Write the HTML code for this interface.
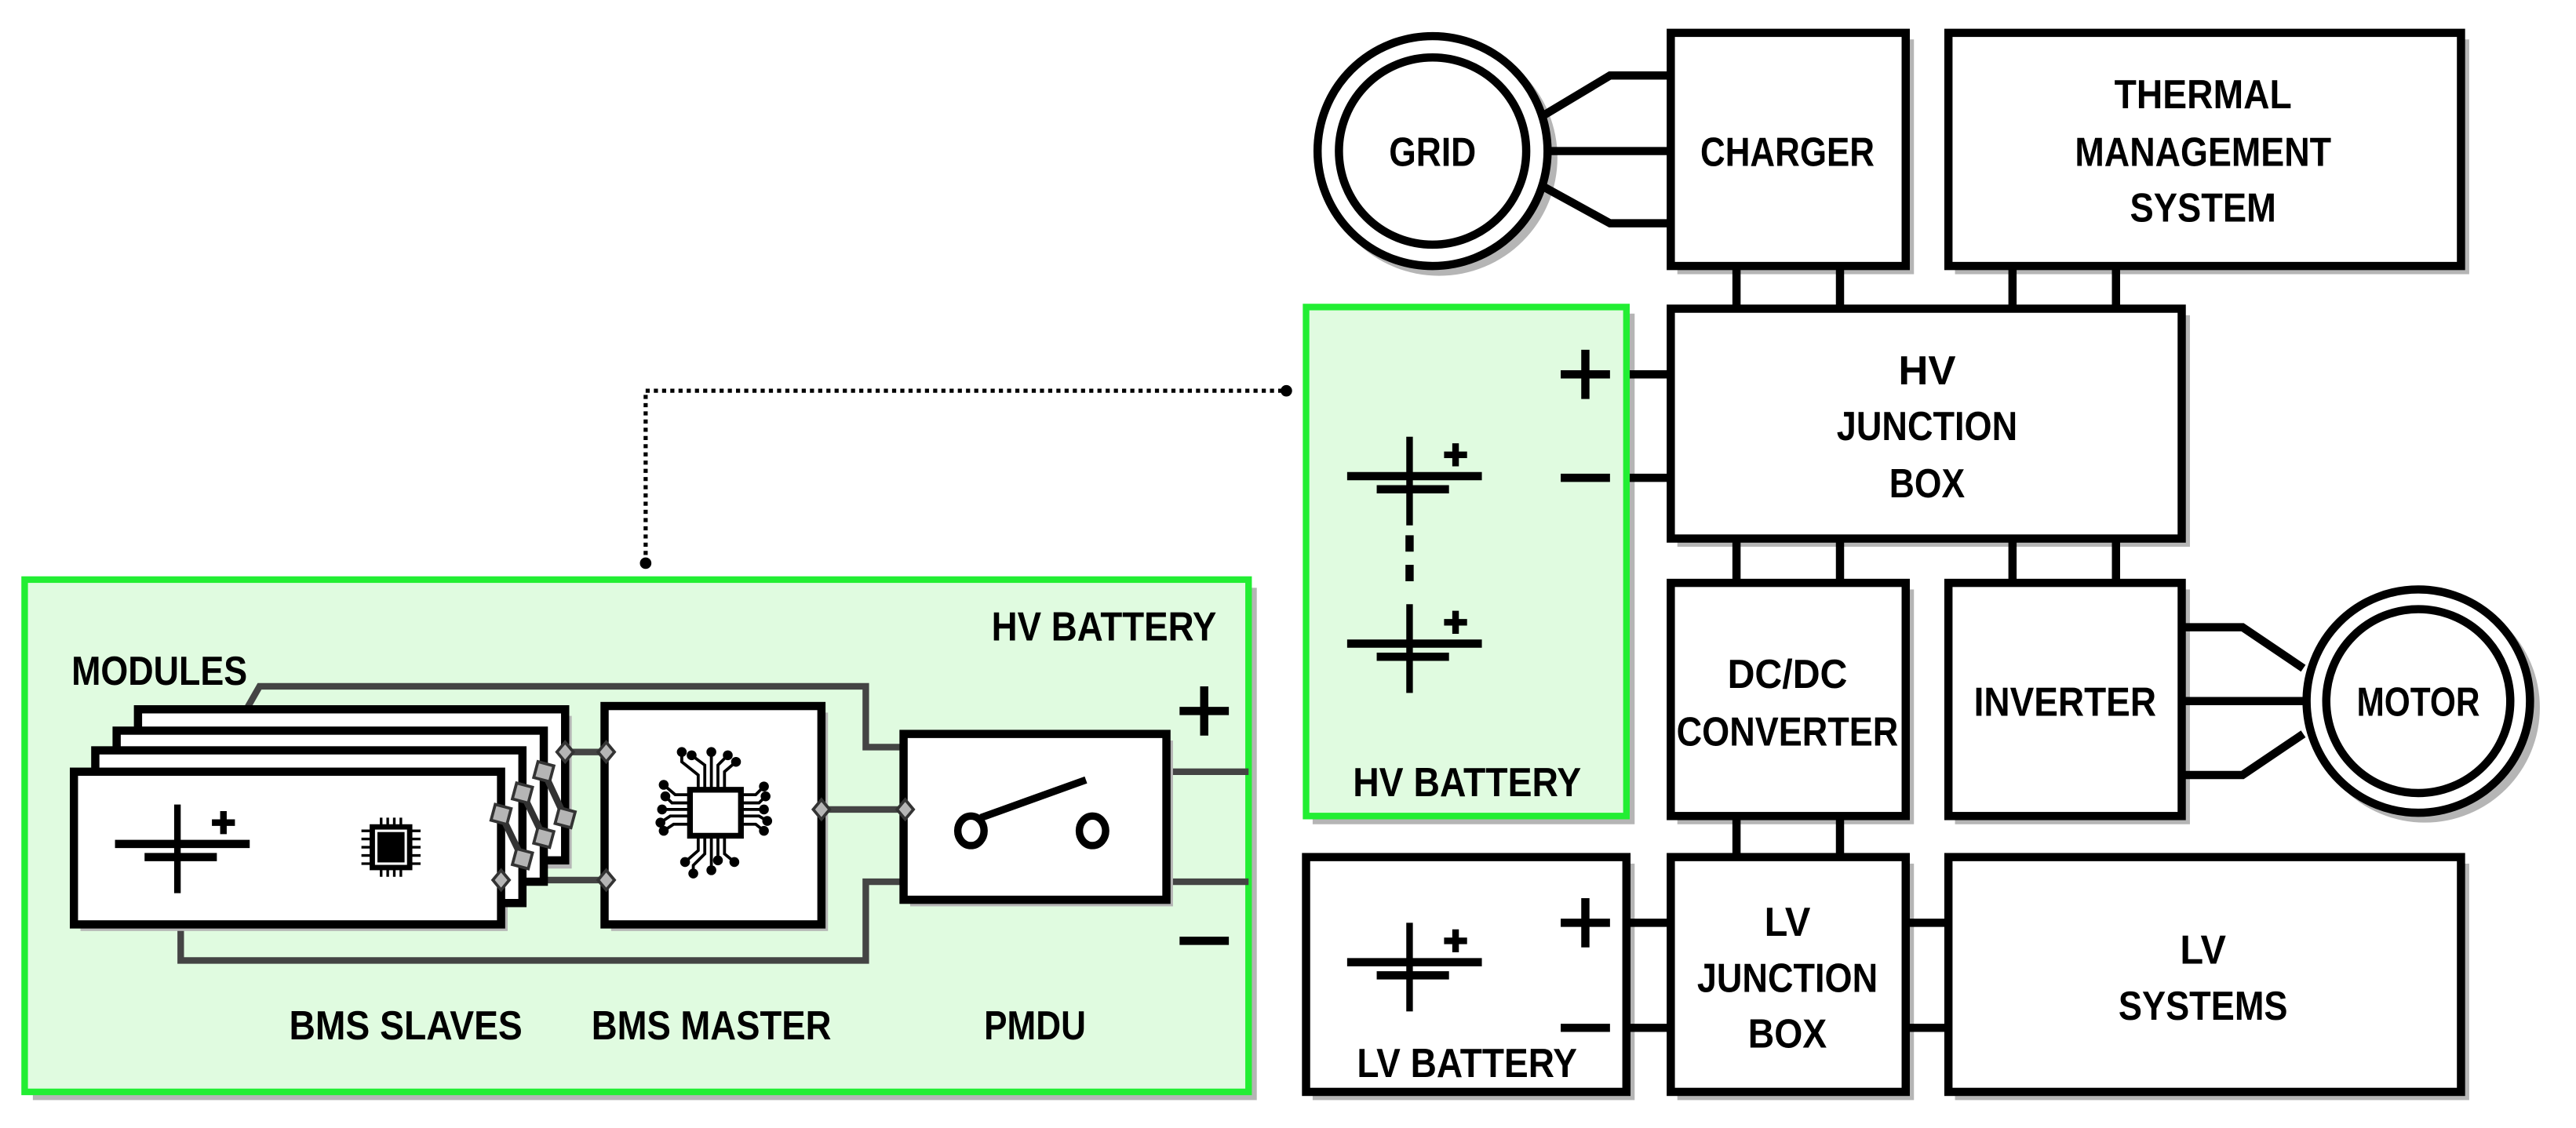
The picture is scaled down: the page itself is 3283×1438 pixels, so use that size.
<!DOCTYPE html>
<html><head><meta charset="utf-8"><style>
html,body{margin:0;padding:0;background:#fff;}
svg{display:block;}
text{font-family:"Liberation Sans",sans-serif;font-weight:bold;font-size:25px;fill:#000;text-anchor:middle;}
</style></head><body>
<svg width="3283" height="1438" viewBox="0 0 1568 687" preserveAspectRatio="none" xmlns="http://www.w3.org/2000/svg">
<defs>
<g id="cell">
<line x1="0" y1="-24" x2="0" y2="30" stroke="#000" stroke-width="4"/>
<line x1="-38" y1="0" x2="44" y2="0" stroke="#000" stroke-width="5"/>
<line x1="-20" y1="8" x2="24" y2="8" stroke="#000" stroke-width="5"/>
<line x1="28" y1="-20" x2="28" y2="-6" stroke="#000" stroke-width="4"/>
<line x1="21" y1="-13" x2="35" y2="-13" stroke="#000" stroke-width="4"/>
</g>
</defs>
<g fill="#b5b5b5">
<rect x="20" y="358" width="745" height="312"/>
<rect x="799" y="191" width="196" height="311"/>
<rect x="799" y="526" width="196" height="144"/>
<rect x="1021" y="24" width="144" height="143"/>
<rect x="1190" y="24" width="313" height="143"/>
<rect x="1021" y="192" width="312" height="141"/>
<rect x="1021" y="359" width="144" height="143"/>
<rect x="1190" y="359" width="143" height="143"/>
<rect x="1021" y="526" width="144" height="144"/>
<rect x="1190" y="526" width="313" height="144"/>
<circle cx="876" cy="96" r="72"/>
<circle cx="1476" cy="431" r="70"/>
</g>
<g stroke="#000" stroke-width="5" fill="#fff">
<circle cx="872" cy="92" r="70"/>
<circle cx="872" cy="92" r="57"/>
<circle cx="1472" cy="427" r="68"/>
<circle cx="1472" cy="427" r="56"/>
</g>
<g stroke="#000" stroke-width="5" fill="none">
<polyline points="940,70 980,46 1017,46"/>
<line x1="942" y1="92" x2="1017" y2="92"/>
<polyline points="940,114 980,136 1017,136"/>
<polyline points="1328,382 1365,382 1402,407"/>
<line x1="1328" y1="427" x2="1404" y2="427"/>
<polyline points="1328,472 1365,472 1402,447"/>
<line x1="1057" y1="162" x2="1057" y2="188"/><line x1="1120" y1="162" x2="1120" y2="188"/>
<line x1="1225" y1="162" x2="1225" y2="188"/><line x1="1288" y1="162" x2="1288" y2="188"/>
<line x1="1057" y1="328" x2="1057" y2="355"/><line x1="1120" y1="328" x2="1120" y2="355"/>
<line x1="1225" y1="328" x2="1225" y2="355"/><line x1="1288" y1="328" x2="1288" y2="355"/>
<line x1="1057" y1="497" x2="1057" y2="522"/><line x1="1120" y1="497" x2="1120" y2="522"/>
<line x1="1160" y1="562" x2="1186" y2="562"/><line x1="1160" y1="626" x2="1186" y2="626"/>
<line x1="990" y1="228" x2="1017" y2="228"/><line x1="990" y1="291" x2="1017" y2="291"/>
<line x1="990" y1="562" x2="1017" y2="562"/><line x1="990" y1="626" x2="1017" y2="626"/>
</g>
<g stroke="#000" stroke-width="5" fill="#fff">
<rect x="1017" y="20" width="143" height="142"/>
<rect x="1186" y="20" width="312" height="142"/>
<rect x="1017" y="188" width="311" height="140"/>
<rect x="1017" y="355" width="143" height="142"/>
<rect x="1186" y="355" width="142" height="142"/>
<rect x="1017" y="522" width="143" height="143"/>
<rect x="1186" y="522" width="312" height="143"/>
<rect x="795" y="522" width="195" height="143"/>
</g>
<rect x="795" y="187" width="195" height="310" fill="#e0fbe0" stroke="#22ee33" stroke-width="4"/>
<text x="872" y="101" textLength="53" lengthAdjust="spacingAndGlyphs">GRID</text>
<text x="1088" y="101" textLength="106" lengthAdjust="spacingAndGlyphs">CHARGER</text>
<text x="1341" y="66" textLength="108" lengthAdjust="spacingAndGlyphs">THERMAL</text>
<text x="1341" y="101" textLength="156" lengthAdjust="spacingAndGlyphs">MANAGEMENT</text>
<text x="1341" y="135" textLength="89" lengthAdjust="spacingAndGlyphs">SYSTEM</text>
<text x="1173" y="234" textLength="35" lengthAdjust="spacingAndGlyphs">HV</text>
<text x="1173" y="268" textLength="110" lengthAdjust="spacingAndGlyphs">JUNCTION</text>
<text x="1173" y="303" textLength="46" lengthAdjust="spacingAndGlyphs">BOX</text>
<text x="1088" y="419" textLength="73" lengthAdjust="spacingAndGlyphs">DC/DC</text>
<text x="1088" y="454" textLength="135" lengthAdjust="spacingAndGlyphs">CONVERTER</text>
<text x="1257" y="436" textLength="111" lengthAdjust="spacingAndGlyphs">INVERTER</text>
<text x="1472" y="436" textLength="75" lengthAdjust="spacingAndGlyphs">MOTOR</text>
<text x="1088" y="570" textLength="28" lengthAdjust="spacingAndGlyphs">LV</text>
<text x="1088" y="604" textLength="110" lengthAdjust="spacingAndGlyphs">JUNCTION</text>
<text x="1088" y="638" textLength="48" lengthAdjust="spacingAndGlyphs">BOX</text>
<text x="1341" y="587" textLength="28" lengthAdjust="spacingAndGlyphs">LV</text>
<text x="1341" y="621" textLength="103" lengthAdjust="spacingAndGlyphs">SYSTEMS</text>
<text x="893" y="485" textLength="139" lengthAdjust="spacingAndGlyphs">HV BATTERY</text>
<text x="893" y="656" textLength="134" lengthAdjust="spacingAndGlyphs">LV BATTERY</text>
<g stroke="#000" stroke-width="5">
<line x1="950" y1="228" x2="980" y2="228"/><line x1="965" y1="213" x2="965" y2="243"/>
<line x1="950" y1="291" x2="980" y2="291"/>
<line x1="950" y1="562" x2="980" y2="562"/><line x1="965" y1="547" x2="965" y2="577"/>
<line x1="950" y1="626" x2="980" y2="626"/>
<line x1="858" y1="326" x2="858" y2="336" /><line x1="858" y1="344" x2="858" y2="354"/>
</g>
<use href="#cell" x="858" y="290"/>
<use href="#cell" x="858" y="392"/>
<use href="#cell" x="858" y="586"/>
<polyline points="393,343 393,238 783,238" fill="none" stroke="#000" stroke-width="2.5" stroke-dasharray="2.5,2.5"/>
<circle cx="393" cy="343" r="3.5"/><circle cx="783" cy="238" r="3.5"/>
<rect x="15" y="353" width="745" height="312" fill="#e0fbe0" stroke="#22ee33" stroke-width="4"/>
<text x="672" y="390" textLength="137" lengthAdjust="spacingAndGlyphs">HV BATTERY</text>
<text x="97" y="417" textLength="107" lengthAdjust="spacingAndGlyphs">MODULES</text>
<text x="247" y="633" textLength="142" lengthAdjust="spacingAndGlyphs">BMS SLAVES</text>
<text x="433" y="633" textLength="146" lengthAdjust="spacingAndGlyphs">BMS MASTER</text>
<text x="630" y="633" textLength="62" lengthAdjust="spacingAndGlyphs">PMDU</text>
<g stroke="#444" stroke-width="4" fill="none">
<polyline points="150,432 158,418 527,418 527,455 550,455"/>
<polyline points="110,563 110,585 527,585 527,537 550,537"/>
<line x1="710" y1="470" x2="760" y2="470"/><line x1="710" y1="537" x2="760" y2="537"/>
<line x1="344" y1="458" x2="369" y2="458"/><line x1="305" y1="536" x2="369" y2="536"/>
<line x1="500" y1="493" x2="550" y2="493"/>
</g>
<g stroke="#000" stroke-width="5">
<line x1="718" y1="433" x2="748" y2="433"/><line x1="733" y1="418" x2="733" y2="448"/>
<line x1="718" y1="573" x2="748" y2="573"/>
</g>
<g fill="#b5b5b5">
<rect x="88" y="436" width="260" height="93"/>
<rect x="49" y="474" width="260" height="93"/>
<rect x="372" y="434" width="132" height="133"/>
<rect x="554" y="451" width="160" height="101"/>
</g>
<g stroke="#000" stroke-width="5" fill="#fff">
<rect x="84" y="432" width="260" height="92"/>
<rect x="71" y="445" width="260" height="92"/>
<rect x="58" y="457" width="260" height="93"/>
<rect x="45" y="470" width="260" height="93"/>
<rect x="368" y="430" width="132" height="133"/>
<rect x="550" y="447" width="160" height="101"/>
</g>
<use href="#cell" x="108" y="514"/>
<g stroke="#000" stroke-width="1.6">
<line x1="232" y1="498" x2="232" y2="534"/><line x1="236" y1="498" x2="236" y2="534"/><line x1="240" y1="498" x2="240" y2="534"/><line x1="244" y1="498" x2="244" y2="534"/>
<line x1="220" y1="506" x2="256" y2="506"/><line x1="220" y1="511" x2="256" y2="511"/><line x1="220" y1="516" x2="256" y2="516"/><line x1="220" y1="521" x2="256" y2="521"/><line x1="220" y1="526" x2="256" y2="526"/>
</g>
<rect x="225" y="502" width="26" height="28" fill="#000"/>
<rect x="229" y="506" width="18" height="20" fill="#000" stroke="#fff" stroke-width="1.5"/>
<g stroke="#000" stroke-width="1.8" fill="none">
<polyline points="425,480 425,472 415,464 415,458"/>
<polyline points="429,480 429,466 421,460"/>
<polyline points="433,480 433,458"/>
<polyline points="437,480 437,466 443,460"/>
<polyline points="441,480 441,470 448,464"/>
<polyline points="425,510 425,518 417,525"/>
<polyline points="429,510 429,520 422,527 422,532"/>
<polyline points="433,510 433,530"/>
<polyline points="437,510 437,524"/>
<polyline points="441,510 441,520 447,525"/>
<polyline points="419,484 411,484 404,478"/>
<polyline points="419,489 409,489 405,485"/>
<polyline points="419,493 403,493"/>
<polyline points="419,497 408,497 402,501"/>
<polyline points="419,502 410,502 404,506"/>
<polyline points="452,484 460,484 465,479"/>
<polyline points="452,489 462,489 466,485"/>
<polyline points="452,493 465,493"/>
<polyline points="452,497 462,497 467,500"/>
<polyline points="452,502 460,502 465,506"/>
</g>
<g fill="#000">
<circle cx="415" cy="458" r="3"/><circle cx="421" cy="460" r="3"/><circle cx="433" cy="458" r="3"/><circle cx="443" cy="460" r="3"/><circle cx="448" cy="464" r="3"/>
<circle cx="417" cy="525" r="3"/><circle cx="422" cy="532" r="3"/><circle cx="433" cy="530" r="3"/><circle cx="437" cy="524" r="3"/><circle cx="447" cy="525" r="3"/>
<circle cx="404" cy="478" r="3"/><circle cx="405" cy="485" r="3"/><circle cx="403" cy="493" r="3"/><circle cx="402" cy="501" r="3"/><circle cx="404" cy="506" r="3"/>
<circle cx="465" cy="479" r="3"/><circle cx="466" cy="485" r="3"/><circle cx="465" cy="493" r="3"/><circle cx="467" cy="500" r="3"/><circle cx="465" cy="506" r="3"/>
</g>
<rect x="420" y="481" width="31" height="28" fill="#fff" stroke="#000" stroke-width="3.5"/>
<g stroke="#000" stroke-width="4.5" fill="#fff">
<line x1="597" y1="498" x2="661" y2="475"/>
<ellipse cx="591" cy="506" rx="8" ry="9"/>
<ellipse cx="665" cy="506" rx="8" ry="9"/>
</g>
<g stroke="#333" stroke-width="4"><line x1="305" y1="496" x2="318" y2="523"/><line x1="318" y1="483" x2="331" y2="510"/><line x1="331" y1="470" x2="344" y2="498"/></g>
<g fill="#b5b5b5" stroke="#333" stroke-width="1.8">
<rect x="300" y="491" width="10" height="10" transform="rotate(15 305 496)"/>
<rect x="313" y="518" width="10" height="10" transform="rotate(15 318 523)"/>
<rect x="313" y="478" width="10" height="10" transform="rotate(15 318 483)"/>
<rect x="326" y="505" width="10" height="10" transform="rotate(15 331 510)"/>
<rect x="326" y="465" width="10" height="10" transform="rotate(15 331 470)"/>
<rect x="339" y="493" width="10" height="10" transform="rotate(15 344 498)"/>
<polygon points="344,452 349,458 344,464 339,458"/>
<polygon points="369,452 374,458 369,464 364,458"/>
<polygon points="305,530 310,536 305,542 300,536"/>
<polygon points="369,530 374,536 369,542 364,536"/>
<polygon points="500,487 505,493 500,499 495,493"/>
<polygon points="551,487 556,493 551,499 546,493"/>
</g>
</svg>
</body></html>
